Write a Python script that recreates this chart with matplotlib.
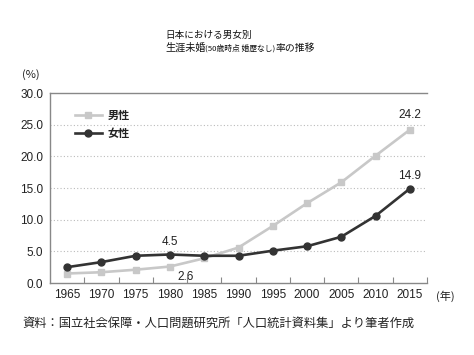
import matplotlib.pyplot as plt
import numpy as np

plt.rcParams['font.family'] = ['Noto Sans CJK JP', 'DejaVu Sans']

years = [1965, 1970, 1975, 1980, 1985, 1990, 1995, 2000, 2005, 2010, 2015]
men = [1.5, 1.7, 2.1, 2.6, 3.9, 5.6, 9.0, 12.6, 15.9, 20.1, 24.2]
women = [2.5, 3.3, 4.3, 4.5, 4.3, 4.3, 5.1, 5.8, 7.3, 10.6, 14.9]
yticks = [0, 5, 10, 15, 20, 25, 30]

W, H = 474, 355
num_font = 'Liberation Sans'
fig = plt.figure(figsize=(W / 100, H / 100), dpi=100)
ax = fig.add_axes([50 / W, 1 - 283 / H, (427 - 50) / W, (283 - 93) / H])

for y in yticks[1:-1]:
    ax.axhline(y, color='#bbbbbb', lw=0.8, ls=(0, (1, 2)), zorder=0)

ax.plot(years, men, color='#c8c8c8', lw=1.9, marker='s', ms=5, label='男性', zorder=2)
ax.plot(years, women, color='#333333', lw=1.9, marker='o', ms=5, label='女性', zorder=3)

ax.set_xlim(1962.5, 2017.5)
ax.set_ylim(0, 30)
ax.set_xticks(np.arange(1967.5, 2018, 5))
ax.set_xticklabels([])
ax.set_xticks(years, minor=True)
ax.set_xticklabels([str(y) for y in years], minor=True, fontsize=8.5, color='#222222', family=num_font)
ax.tick_params(axis='x', which='major', direction='in', length=4, color='#888888')
ax.tick_params(axis='x', which='minor', length=0, pad=4)
ax.set_yticks(yticks)
ax.set_yticklabels([f'{v:.1f}' for v in yticks], fontsize=8.5, color='#222222', family=num_font)
ax.tick_params(axis='y', length=0, pad=5)

for s in ['left', 'bottom', 'top']:
    ax.spines[s].set_color('#888888')
    ax.spines[s].set_linewidth(1.0)
ax.spines['right'].set_visible(False)

lab = dict(fontsize=8.5, color='#222222', family=num_font, textcoords='offset points', ha='center')
ax.annotate(f'{men[-1]}', (years[-1], men[-1]), xytext=(0, 6), va='bottom', **lab)
ax.annotate(f'{women[-1]}', (years[-1], women[-1]), xytext=(0, 5), va='bottom', **lab)
ax.annotate(f'{women[3]}', (years[3], women[3]), xytext=(0, 5), va='bottom', **lab)
ax.annotate(f'{men[3]}', (years[3], men[3]), xytext=(11, -3), va='top', **lab)

leg = ax.legend(loc='upper left', bbox_to_anchor=(0.04, 0.97), frameon=False,
                fontsize=8, handlelength=2.4, labelspacing=0.45, handletextpad=0.5)
for t in leg.get_texts():
    t.set_fontweight('bold')
    t.set_color('#222222')

fig.text(22 / W, 1 - 75 / H, '(%)', fontsize=8, ha='left', va='center', color='#222222')
fig.text(436 / W, 1 - 296 / H, '(年)', fontsize=8, ha='left', va='center', color='#222222')

fig.text(165 / W, 1 - 35.5 / H, '日本における男女別', fontsize=6.9, ha='left', va='center', color='#111111')
fig.text(165 / W, 1 - 48 / H, '生涯未婚', fontsize=7.3, ha='left', va='center', color='#111111')
fig.text(205 / W, 1 - 48.5 / H, '(50歳時点 婚歴なし)', fontsize=5.6, ha='left', va='center', color='#111111')
fig.text(276 / W, 1 - 48 / H, '率の推移', fontsize=7.1, ha='left', va='center', color='#111111')

fig.text(22 / W, 1 - 323 / H, '資料：国立社会保障・人口問題研究所「人口統計資料集」より筆者作成',
         fontsize=8.8, ha='left', va='center', color='#222222')

fig.savefig('out.png', dpi=100)
